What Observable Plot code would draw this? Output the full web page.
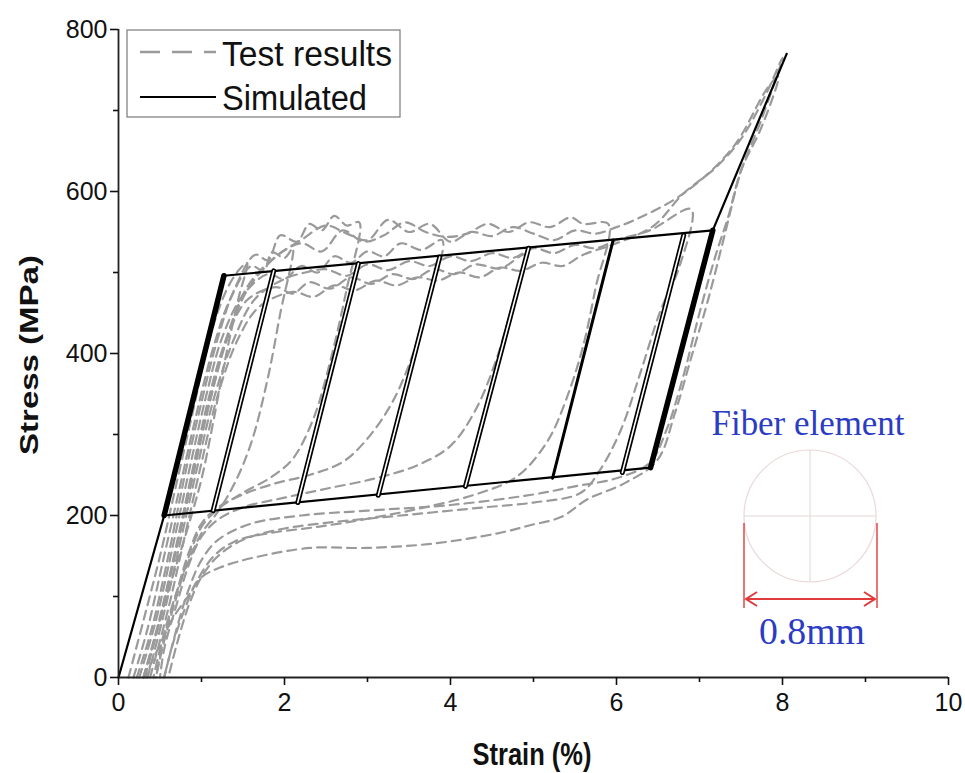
<!DOCTYPE html>
<html>
<head>
<meta charset="utf-8">
<script src="https://cdn.jsdelivr.net/npm/d3@7"></script>
<script src="https://cdn.jsdelivr.net/npm/@observablehq/plot@0.6"></script>
<style>
  html, body { margin: 0; padding: 0; background: #fff; }
  #chart { width: 965px; height: 773px; }
</style>
</head>
<body>
<div id="chart"></div>
<script>
// ---------- tick values ----------
const xTicksMajor = [0, 2, 4, 6, 8, 10];
const xTicksMinor = [1, 3, 5, 7, 9];
const yTicksMajor = [0, 200, 400, 600, 800];
const yTicksMinor = [100, 300, 500, 700];

// ---------- test results (strain %, stress MPa), one array per cycle ----------
const testCycle1 = [[0.12,0],[0.3,70],[0.5,150],[0.7,240],[0.9,330],[1.1,420],[1.3,478],[1.45,503],[1.55,512],
  [1.45,470],[1.3,400],[1.15,320],[1.0,245],[0.85,190],[0.7,140],[0.55,90],[0.4,35],[0.3,0]];
const testCycle2 = [[0.18,0],[0.35,60],[0.55,150],[0.75,240],[0.95,330],[1.15,410],[1.35,468],[1.6,508],[1.75,502],[1.85,525],[2.0,518],[2.1,530],
  [1.95,450],[1.8,370],[1.6,290],[1.4,240],[1.2,205],[1.0,178],[0.85,145],[0.7,105],[0.55,55],[0.42,0]];
const testCycle3 = [[0.22,0],[0.4,60],[0.6,150],[0.8,250],[1.0,340],[1.2,420],[1.4,480],[1.65,522],[1.8,515],[1.95,546],[2.15,538],[2.3,560],[2.45,552],[2.6,570],[2.75,558],[2.9,562],
  [2.75,480],[2.55,390],[2.35,320],[2.1,270],[1.85,248],[1.5,228],[1.2,208],[1.0,186],[0.85,150],[0.7,100],[0.55,45],[0.45,0]];
const testCycle4 = [[0.25,0],[0.45,70],[0.65,160],[0.85,255],[1.05,345],[1.25,420],[1.5,472],[1.8,498],[2.0,492],[2.2,508],[2.4,500],[2.6,520],[2.8,512],[3.0,526],[3.2,520],[3.4,536],[3.65,528],[3.9,540],
  [3.75,470],[3.55,400],[3.3,340],[3.0,295],[2.7,266],[2.3,250],[1.9,240],[1.5,226],[1.2,210],[1.0,190],[0.85,155],[0.7,105],[0.55,50],[0.45,0]];
const testCycle5 = [[0.3,0],[0.5,75],[0.7,165],[0.9,260],[1.1,350],[1.3,418],[1.55,466],[1.9,482],[2.1,474],[2.3,488],[2.55,480],[2.8,494],[3.05,486],[3.3,498],[3.55,492],[3.8,504],[4.05,498],[4.3,510],[4.6,505],[4.9,522],
  [4.75,462],[4.55,392],[4.3,330],[4.0,286],[3.6,262],[3.1,246],[2.5,233],[2.0,222],[1.5,210],[1.2,195],[1.0,174],[0.85,140],[0.7,90],[0.55,35],[0.5,0]];
const testCycle6 = [[0.32,0],[0.52,80],[0.72,170],[0.92,265],[1.12,350],[1.32,425],[1.55,482],[1.85,516],[2.2,536],[2.45,526],[2.7,552],[2.95,538],[3.2,546],[3.45,562],[3.7,550],[3.95,544],[4.2,548],[4.45,560],[4.7,550],[4.95,562],[5.2,556],[5.45,568],[5.6,560],[5.9,560],
  [5.75,482],[5.6,410],[5.4,345],[5.17,292],[4.8,248],[4.3,226],[3.6,208],[3.0,196],[2.4,186],[1.8,178],[1.4,168],[1.15,150],[0.95,120],[0.8,85],[0.65,40],[0.55,0]];
const testCycle7 = [[0.35,0],[0.55,80],[0.75,170],[0.95,260],[1.15,345],[1.4,420],[1.65,468],[2.0,492],[2.25,500],[2.5,504],[2.75,496],[3.0,510],[3.25,503],[3.5,514],[3.75,508],[4.0,520],[4.25,514],[4.5,524],[4.75,518],[5.0,530],[5.25,524],[5.5,534],[5.75,530],[6.0,540],[6.4,552],[6.9,578],
  [6.75,505],[6.53,453],[6.3,380],[6.05,305],[5.8,256],[5.57,228],[5.0,216],[4.4,210],[3.8,204],[3.2,198],[2.6,192],[2.0,184],[1.5,170],[1.2,150],[1.0,124],[0.85,90],[0.7,40],[0.6,0]];
const testCycle8 = [[0.38,0],[0.6,85],[0.8,175],[1.0,265],[1.2,350],[1.45,420],[1.7,458],[2.1,476],[2.35,470],[2.6,484],[2.85,478],[3.1,490],[3.35,484],[3.6,494],[3.85,490],[4.1,500],[4.35,494],[4.6,506],[4.85,502],[5.1,512],[5.35,508],[5.6,522],[6.0,536],[6.45,558],[6.8,597],[7.2,630],[7.5,665],[7.8,720],[8.0,765],
  [7.75,690],[7.5,625],[7.3,545],[7.1,465],[6.9,395],[6.7,325],[6.49,268],[6.1,240],[5.65,220],[5.33,198],[4.96,188],[4.57,178],[3.76,165],[3.0,160],[2.31,160],[1.63,148],[1.23,136],[0.99,123],[0.83,99],[0.66,74],[0.51,42],[0.39,17],[0.34,0]];
const testCycle9 = [[0.3,0],[0.5,70],[0.7,160],[0.9,250],[1.1,340],[1.3,415],[1.55,478],[1.9,520],[2.2,540],[2.5,558],[2.75,548],[3.0,540],[3.25,565],[3.5,550],[3.75,560],[4.0,538],[4.25,550],[4.5,545],[4.75,556],[5.0,548],[5.25,540],[5.5,552],[5.75,548],[6.0,556],[6.2,564],[6.8,597],[7.4,654],[7.82,728],[7.95,742],
  [7.75,680],[7.5,626],[7.35,570],[7.2,523],[7.0,450],[6.8,370],[6.6,305],[6.4,265],[6.0,246],[5.5,236],[5.0,226],[4.0,213],[3.0,206],[2.2,200],[1.6,190],[1.2,170],[1.0,145],[0.85,110],[0.7,60],[0.55,0]];
const testCycles = [testCycle1, testCycle2, testCycle3, testCycle4, testCycle5, testCycle6, testCycle7, testCycle8, testCycle9];

// ---------- simulated (strain %, stress MPa) ----------
const simInitial = [[0, 0], [0.55, 200]];
const simFirstLoad = [[0.55, 200], [1.27, 496]];          // heavily overlapped (thick)
const simUpperPlateau = [[1.27, 496], [7.16, 552]];
const simLowerPlateau = [[0.55, 200], [6.41, 259]];
const simLastCycle = [[6.41, 259], [7.16, 552]];          // heavily overlapped (thick)
const simHardening = [[7.16, 552], [8.05, 770]];
const simUnloadTop = [[1.87, 502], [2.89, 511], [3.87, 519], [4.94, 530], [5.96, 540], [6.81, 546]];
const simUnloadBottom = [[1.14, 206], [2.16, 216], [3.13, 225], [4.18, 236], [5.23, 246], [6.07, 253]];
const simUnloadStyle = ["double", "double", "double", "double", "single", "double"];

// ---------- build tables ----------
const testData = testCycles.flatMap((c, i) => c.map(([x, y]) => ({x, y, cycle: i})));
const toRows = (pts, id) => pts.map(([x, y]) => ({x, y, id}));
const thinSim = [
  ...toRows(simInitial, "init"),
  ...toRows(simUpperPlateau, "upper"),
  ...toRows(simLowerPlateau, "lower"),
  ...toRows(simHardening, "hard")
];
const thickSim = [...toRows(simFirstLoad, "first"), ...toRows(simLastCycle, "last")];
const unloadRows = simUnloadTop.flatMap((t, i) => [
  {x: t[0], y: t[1], id: i, style: simUnloadStyle[i]},
  {x: simUnloadBottom[i][0], y: simUnloadBottom[i][1], id: i, style: simUnloadStyle[i]}
]);
const doubleRows = unloadRows.filter(d => d.style === "double");
const singleRows = unloadRows.filter(d => d.style === "single");

const font = "Liberation Sans, Arial, sans-serif";

const svg = Plot.plot({
  width: 965,
  height: 773,
  marginLeft: 118,
  marginRight: 17,
  marginTop: 29,
  marginBottom: 96,
  x: {domain: [0, 10]},
  y: {domain: [0, 800]},
  style: {fontFamily: font, fontSize: "25px", color: "#111", background: "#fff", overflow: "visible"},
  marks: [
    Plot.line(testData, {x: "x", y: "y", z: "cycle", stroke: "#9a9a9a", strokeWidth: 2.2, strokeDasharray: "9,6", curve: "catmull-rom"}),
    Plot.line(thinSim, {x: "x", y: "y", z: "id", stroke: "#000", strokeWidth: 2.2}),
    Plot.line(thickSim, {x: "x", y: "y", z: "id", stroke: "#000", strokeWidth: 5.5}),
    Plot.line(doubleRows, {x: "x", y: "y", z: "id", stroke: "#000", strokeWidth: 5}),
    Plot.line(doubleRows, {x: "x", y: "y", z: "id", stroke: "#fff", strokeWidth: 1.6}),
    Plot.line(singleRows, {x: "x", y: "y", z: "id", stroke: "#000", strokeWidth: 3}),
    Plot.ruleX([0], {stroke: "#222", strokeWidth: 1.8}),
    Plot.ruleY([0], {stroke: "#222", strokeWidth: 1.8}),
    Plot.axisX(xTicksMajor, {tickSize: 8, tickPadding: 8, strokeWidth: 1.6, label: null, fontSize: 25}),
    Plot.axisX(xTicksMinor, {tickSize: 5, strokeWidth: 1.6, tickFormat: () => "", label: null}),
    Plot.axisY(yTicksMajor, {tickSize: 8, tickPadding: 3, strokeWidth: 1.6, label: null, fontSize: 25}),
    Plot.axisY(yTicksMinor, {tickSize: 5, strokeWidth: 1.6, tickFormat: () => "", label: null})
  ]
});

const s = d3.select(svg);

// axis titles
s.append("text").attr("transform", "translate(532,765) scale(1,1.25)").attr("text-anchor", "middle")
  .attr("font-family", font).attr("font-weight", "bold").attr("font-size", 25.5).attr("fill", "#111")
  .text("Strain (%)");
s.append("text").attr("transform", "translate(38,355) rotate(-90) scale(1.27,1)").attr("text-anchor", "middle")
  .attr("font-family", font).attr("font-weight", "bold").attr("font-size", 26).attr("fill", "#111")
  .text("Stress (MPa)");

// legend
const lg = s.append("g");
lg.append("rect").attr("x", 127).attr("y", 30).attr("width", 273).attr("height", 87)
  .attr("fill", "#fff").attr("stroke", "#7a7a7a").attr("stroke-width", 1.2);
lg.append("line").attr("x1", 140).attr("x2", 216).attr("y1", 52).attr("y2", 52)
  .attr("stroke", "#9a9a9a").attr("stroke-width", 2.4).attr("stroke-dasharray", "20,12");
lg.append("line").attr("x1", 140).attr("x2", 216).attr("y1", 97).attr("y2", 97)
  .attr("stroke", "#000").attr("stroke-width", 2.2);
lg.append("text").attr("x", 222).attr("y", 66).attr("text-anchor", "start").attr("font-family", font)
  .attr("font-size", 35).attr("fill", "#111").attr("textLength", 170).attr("lengthAdjust", "spacingAndGlyphs").text("Test results");
lg.append("text").attr("x", 222).attr("y", 110).attr("text-anchor", "start").attr("font-family", font)
  .attr("font-size", 35).attr("fill", "#111").attr("textLength", 145).attr("lengthAdjust", "spacingAndGlyphs").text("Simulated");

// fiber element inset
const serif = "Liberation Serif, Times New Roman, serif";
const ins = s.append("g");
ins.append("text").attr("x", 808).attr("y", 435).attr("text-anchor", "middle")
  .attr("font-family", serif).attr("font-size", 35).attr("fill", "#2b3cc4")
  .attr("textLength", 193).attr("lengthAdjust", "spacingAndGlyphs").text("Fiber element");
ins.append("circle").attr("cx", 810).attr("cy", 516).attr("r", 66)
  .attr("fill", "none").attr("stroke", "#ead8d8").attr("stroke-width", 1.2);
ins.append("line").attr("x1", 744).attr("x2", 876).attr("y1", 516).attr("y2", 516).attr("stroke", "#e2d6d6").attr("stroke-width", 1);
ins.append("line").attr("x1", 810).attr("x2", 810).attr("y1", 450).attr("y2", 582).attr("stroke", "#e2d6d6").attr("stroke-width", 1);
ins.append("line").attr("x1", 744).attr("x2", 744).attr("y1", 523).attr("y2", 608).attr("stroke", "#e03a3a").attr("stroke-width", 1.4);
ins.append("line").attr("x1", 877).attr("x2", 877).attr("y1", 523).attr("y2", 608).attr("stroke", "#e03a3a").attr("stroke-width", 1.4);
ins.append("line").attr("x1", 746).attr("x2", 875).attr("y1", 599).attr("y2", 599).attr("stroke", "#e03a3a").attr("stroke-width", 2.2);
ins.append("path").attr("d", "M757,592 L746,599 L757,606").attr("fill", "none").attr("stroke", "#e03a3a").attr("stroke-width", 2);
ins.append("path").attr("d", "M864,592 L875,599 L864,606").attr("fill", "none").attr("stroke", "#e03a3a").attr("stroke-width", 2);
ins.append("text").attr("x", 812).attr("y", 644).attr("text-anchor", "middle")
  .attr("font-family", serif).attr("font-size", 38).attr("fill", "#2b3cc4")
  .attr("textLength", 106).attr("lengthAdjust", "spacingAndGlyphs").text("0.8mm");

document.getElementById("chart").appendChild(svg);
</script>
</body>
</html>
